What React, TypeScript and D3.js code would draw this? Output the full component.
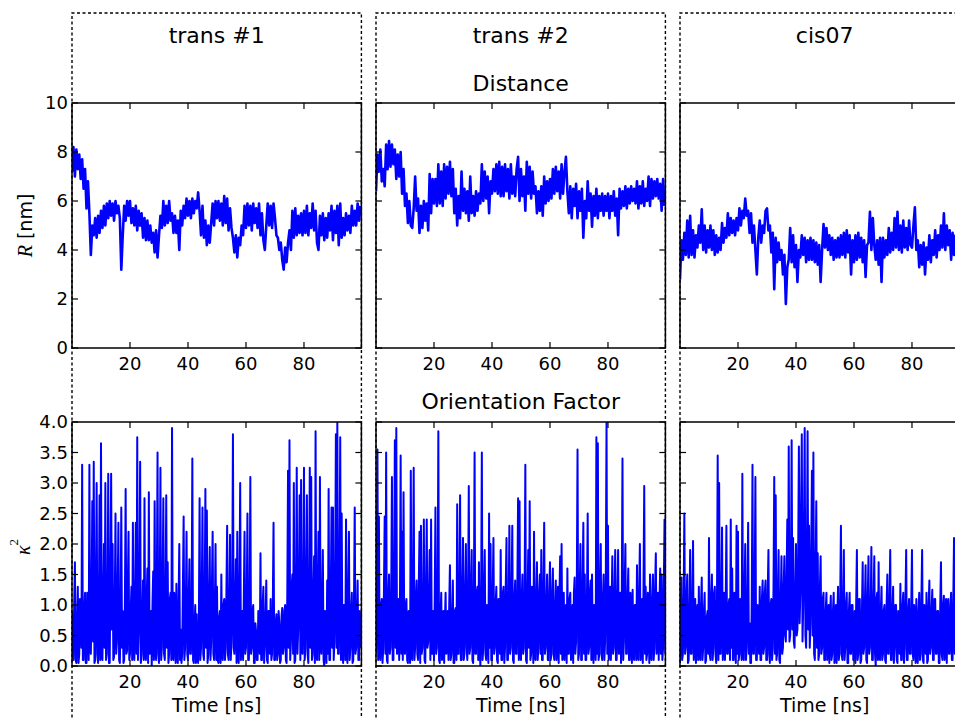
import * as d3 from 'd3';

// R sampled every 0.5 ns, kappa^2 every 0.25 ns (0 .. ~99.7 ns)
const DIST_STEP_NS = 0.5;
const KAPPA_STEP_NS = 0.25;

const columns = ['trans #1', 'trans #2', 'cis07'];

// donor-acceptor distance R [nm]
const distTrans1 = [
  7.2, 8.2, 7.0, 8.1, 7.3, 7.9, 6.9, 7.7, 6.5, 7.3, 5.7, 6.8, 5.5, 3.8, 5.0, 4.6, 5.3, 4.5, 5.4, 4.7,
  5.6, 4.9, 5.8, 5.0, 5.9, 5.3, 6.0, 5.4, 5.9, 5.2, 6.0, 5.5, 5.8, 5.3, 3.2, 4.6, 5.8, 5.2, 6.0, 5.4,
  6.0, 5.1, 5.7, 5.0, 5.8, 4.8, 5.6, 5.0, 5.5, 4.5, 5.3, 4.4, 5.2, 4.4, 5.0, 4.3, 4.7, 3.9, 4.8, 3.7,
  4.6, 5.4, 4.9, 6.0, 5.0, 5.8, 5.1, 6.0, 5.2, 5.5, 4.7, 5.4, 4.7, 5.2, 4.0, 5.6, 5.0, 5.8, 5.3, 6.1,
  5.4, 6.0, 5.3, 6.1, 5.5, 6.0, 5.7, 6.35, 5.6, 4.6, 5.8, 4.5, 5.2, 4.2, 5.0, 4.3, 5.1, 5.9, 5.0, 6.0,
  5.3, 6.0, 5.2, 5.9, 5.0, 6.2, 5.1, 6.1, 4.8, 5.7, 4.9, 4.5, 3.9, 4.6, 3.7, 4.5, 4.2, 5.0, 4.6, 5.8,
  4.9, 5.9, 5.0, 5.8, 4.8, 5.9, 5.1, 5.7, 4.9, 5.9, 4.6, 5.5, 4.4, 4.0, 5.0, 5.9, 5.0, 5.8, 4.9, 5.9,
  5.3, 4.6, 4.5, 4.0, 4.3, 3.6, 3.2, 4.1, 3.5, 4.3, 4.8, 4.0, 5.6, 4.5, 5.7, 4.6, 5.4, 4.7, 5.5, 4.6,
  5.6, 4.7, 5.8, 4.6, 5.5, 4.9, 5.9, 4.8, 5.6, 4.3, 4.0, 5.4, 4.6, 5.5, 4.4, 5.3, 4.5, 5.5, 4.8, 5.8,
  4.4, 5.6, 4.7, 5.8, 4.2, 5.9, 4.5, 5.3, 4.6, 5.5, 4.8, 5.4, 4.7, 5.8, 5.0, 5.6, 5.0, 5.9, 5.2, 5.8,
];
const distTrans2 = [
  6.4, 7.9, 7.2, 8.1, 6.8, 7.3, 6.6, 8.3, 7.3, 8.45, 7.4, 8.3, 7.5, 8.1, 6.9, 7.9, 7.0, 8.0, 6.3, 7.3,
  5.8, 6.3, 5.1, 6.0, 5.0, 4.9, 5.7, 7.0, 5.6, 6.1, 4.7, 5.8, 4.9, 6.0, 5.2, 5.9, 4.8, 7.1, 5.5, 6.9,
  5.9, 6.9, 5.8, 7.5, 5.9, 7.2, 5.8, 7.5, 6.1, 7.4, 6.3, 7.6, 6.2, 7.3, 5.5, 6.5, 5.0, 6.2, 5.3, 7.2,
  5.6, 6.5, 5.5, 6.4, 5.2, 7.0, 5.5, 6.2, 5.4, 6.4, 5.6, 6.3, 5.9, 7.5, 6.0, 7.2, 6.1, 7.0, 5.5, 6.8,
  6.3, 7.3, 6.4, 7.5, 6.3, 7.6, 6.2, 7.4, 6.2, 7.5, 6.4, 7.3, 6.1, 7.5, 6.3, 7.0, 6.2, 7.3, 7.8, 6.0,
  7.3, 6.2, 7.0, 5.6, 7.6, 6.3, 7.4, 6.1, 7.2, 6.3, 6.6, 5.5, 6.4, 5.6, 6.6, 5.4, 7.0, 5.9, 6.8, 6.0,
  6.9, 6.1, 7.3, 6.3, 7.4, 6.4, 7.2, 6.1, 7.5, 6.3, 7.2, 7.8, 6.4, 5.5, 6.6, 5.3, 6.5, 5.8, 6.7, 5.3,
  6.4, 5.6, 6.5, 4.5, 6.0, 5.3, 6.8, 5.6, 6.3, 4.95, 6.2, 5.4, 6.5, 5.3, 6.2, 5.6, 6.3, 5.4, 6.2, 5.6,
  6.3, 5.3, 6.2, 5.6, 6.4, 5.4, 6.1, 4.6, 6.5, 5.7, 6.4, 5.8, 6.6, 5.7, 6.5, 5.9, 6.6, 6.0, 6.5, 5.9,
  6.8, 5.7, 6.6, 5.9, 6.8, 5.8, 6.5, 6.0, 7.0, 5.8, 6.9, 6.1, 6.8, 6.2, 6.9, 6.1, 6.7, 5.6, 6.9, 5.8,
];
const distCis07 = [
  2.8, 4.4, 3.6, 4.7, 3.8, 5.2, 3.7, 5.4, 3.8, 4.8, 3.7, 4.6, 4.1, 5.0, 4.3, 5.66, 4.0, 5.0, 3.9, 4.8,
  4.1, 5.0, 4.0, 4.8, 3.8, 4.6, 3.9, 4.5, 4.0, 5.1, 4.3, 4.9, 4.5, 5.5, 4.6, 5.3, 4.7, 5.2, 4.6, 5.3,
  4.8, 5.7, 5.0, 5.6, 5.3, 6.1, 5.4, 5.6, 4.7, 5.5, 4.3, 5.0, 4.0, 3.0, 4.5, 5.2, 4.3, 5.0, 4.7, 5.6,
  5.7, 4.8, 5.0, 3.9, 4.7, 2.4, 4.5, 3.5, 4.3, 3.6, 4.0, 3.0, 3.8, 1.8, 3.3, 3.6, 4.9, 3.5, 4.6, 3.3,
  4.2, 2.7, 4.0, 3.7, 4.6, 3.8, 4.5, 3.5, 4.4, 3.6, 4.5, 3.6, 4.4, 3.5, 4.3, 3.4, 4.2, 2.7, 4.0, 5.06,
  4.1, 4.9, 4.0, 4.6, 3.8, 4.5, 3.6, 4.4, 3.7, 4.5, 3.7, 4.6, 3.8, 4.7, 3.7, 4.8, 3.9, 4.6, 3.0, 4.4,
  3.5, 4.6, 3.6, 4.7, 3.7, 4.5, 3.5, 4.4, 2.9, 4.2, 4.3, 5.56, 4.0, 5.3, 4.2, 3.6, 4.4, 3.4, 4.5, 2.7,
  4.5, 3.7, 4.4, 3.8, 4.9, 3.9, 4.7, 4.0, 5.3, 4.1, 5.56, 4.0, 5.0, 3.9, 5.2, 4.1, 4.9, 4.0, 5.2, 4.2,
  4.1, 5.0, 5.74, 4.0, 4.4, 3.3, 4.2, 3.4, 4.3, 3.0, 4.1, 3.6, 4.6, 3.5, 4.4, 3.8, 4.8, 3.7, 4.6, 4.0,
  5.0, 4.1, 5.5, 4.0, 5.0, 4.2, 4.8, 3.6, 4.7, 3.8, 4.6, 4.1, 5.0, 4.2, 4.9, 4.3, 5.1, 4.4, 5.0, 4.5,
];

// orientation factor kappa^2, one row = 10 ns
const kappaTrans1 = [
  0.9, 0.2, 0.1, 1.0, 1.7, 0.1, 0.05, 0.7, 1.3, 0.05, 0.2, 1.1, 0.9, 0.3, 3.3, 0.1, 0.1, 0.9, 1.2, 0.05,
  0.05, 1.2, 0.8, 0.1, 3.3, 0.3, 0.2, 1.0, 2.7, 0.4, 3.35, 0.05, 0.1, 1.3, 3.0, 0.2, 0.05, 0.8, 2.8, 0.1,
  3.65, 0.2, 0.1, 1.1, 2.0, 0.3, 3.0, 0.1, 0.2, 0.9, 3.15, 0.05, 0.05, 1.4, 3.15, 0.6, 2.0, 0.1, 0.15, 1.0,
  2.5, 0.2, 0.4, 1.2, 2.35, 0.1, 0.05, 0.8, 2.6, 0.3, 0.9, 0.05, 0.1, 1.1, 2.9, 0.2, 0.25, 1.3, 2.2, 0.1,
  0.2, 0.9, 1.3, 0.1, 2.35, 0.3, 0.1, 1.0, 2.35, 0.2, 3.75, 0.1, 0.5, 1.2, 3.35, 0.05, 0.2, 0.8, 1.4, 0.1,
  2.75, 0.3, 0.1, 1.1, 1.6, 0.05, 2.85, 0.2, 0.3, 0.9, 0.0, 1.0, 1.55, 0.1, 2.7, 0.4, 0.1, 1.2, 3.5, 0.2,
  0.05, 1.0, 3.25, 0.1, 0.3, 1.3, 2.75, 0.2, 0.1, 0.9, 2.8, 0.3, 1.7, 0.05, 0.2, 1.1, 1.2, 0.1, 3.9, 0.2,
  0.1, 1.2, 0.9, 0.05, 1.35, 0.3, 0.05, 1.0, 2.0, 0.1, 0.6, 0.05, 0.2, 1.3, 2.45, 0.1, 0.3, 0.9, 2.2, 0.2,
  0.1, 1.1, 1.75, 0.2, 0.2, 0.9, 3.4, 0.1, 0.05, 0.6, 1.0, 0.05, 0.85, 0.2, 0.05, 0.7, 2.75, 0.1, 0.3, 1.2,
  2.6, 0.2, 0.1, 1.0, 2.9, 0.3, 2.55, 0.05, 0.2, 1.1, 1.95, 0.1, 0.4, 1.3, 2.2, 0.2, 0.1, 0.9, 2.0, 0.1,
  1.3, 0.1, 0.05, 0.8, 0.9, 0.05, 1.5, 0.2, 0.1, 1.0, 1.1, 0.1, 0.3, 1.2, 2.3, 0.2, 0.1, 0.9, 2.15, 0.1,
  0.4, 1.1, 3.8, 0.3, 0.2, 1.0, 1.75, 0.05, 2.2, 0.2, 0.05, 1.2, 3.0, 0.1, 0.4, 0.9, 0.1, 1.1, 2.2, 0.2,
  0.3, 1.0, 2.5, 0.1, 0.1, 0.8, 3.1, 0.2, 0.3, 0.9, 1.0, 0.05, 0.05, 0.7, 0.55, 0.1, 0.1, 0.9, 0.8, 0.2,
  1.85, 0.1, 0.1, 1.0, 1.3, 0.05, 0.3, 0.8, 1.4, 0.1, 0.05, 0.9, 0.9, 0.2, 1.1, 0.1, 0.2, 1.0, 2.35, 0.1,
  0.1, 0.7, 0.85, 0.1, 0.2, 0.9, 0.7, 0.05, 0.1, 0.8, 0.95, 0.2, 0.3, 0.9, 1.0, 0.1, 0.05, 1.2, 3.2, 0.3,
  3.7, 0.1, 0.4, 1.3, 1.5, 0.2, 3.0, 0.05, 0.1, 1.1, 3.25, 0.2, 0.6, 1.4, 2.8, 0.1, 3.05, 0.3, 0.2, 1.2,
  3.25, 0.1, 0.3, 1.4, 2.8, 0.2, 0.05, 1.1, 3.25, 0.3, 3.1, 0.1, 0.2, 1.2, 1.8, 0.05, 3.85, 0.2, 0.1, 1.3,
  2.2, 0.1, 3.1, 0.4, 0.2, 1.0, 1.9, 0.1, 0.0, 0.9, 0.7, 0.05, 1.4, 0.2, 2.9, 0.1, 0.1, 1.2, 2.6, 0.3,
  2.6, 0.1, 0.4, 1.3, 3.8, 0.3, 4.0, 0.2, 0.2, 1.4, 3.75, 0.1, 2.5, 0.3, 0.05, 1.0, 1.0, 0.1, 2.4, 0.2,
  0.05, 1.2, 2.2, 0.1, 0.3, 0.9, 1.2, 0.05, 0.1, 1.1, 2.6, 0.2, 0.3, 0.8, 1.4, 0.1, 0.1, 0.9, 0.6, 0.3,
];
const kappaTrans2 = [
  0.2, 1.2, 3.55, 0.1, 2.45, 0.3, 0.1, 1.0, 1.1, 0.05, 0.3, 1.3, 2.45, 0.2, 3.5, 0.1, 0.05, 1.1, 1.5, 0.2,
  0.3, 1.2, 3.1, 0.1, 0.1, 1.4, 3.7, 0.3, 3.9, 0.2, 0.3, 1.1, 0.1, 0.9, 3.45, 0.2, 2.2, 0.1, 2.85, 0.3,
  0.2, 1.0, 1.1, 0.1, 0.05, 0.9, 0.8, 0.05, 3.2, 0.2, 0.1, 1.2, 3.25, 0.1, 0.3, 1.1, 1.4, 0.2, 0.1, 1.3,
  2.2, 0.05, 2.3, 0.2, 0.3, 1.0, 2.4, 0.1, 0.05, 1.2, 2.4, 0.3, 0.4, 1.1, 1.9, 0.1, 2.4, 0.2, 0.2, 0.9,
  0.1, 1.1, 2.6, 0.2, 0.3, 0.9, 3.85, 0.1, 0.05, 0.8, 1.2, 0.1, 0.2, 0.9, 0.05, 0.7, 1.2, 0.2, 0.4, 0.9,
  0.1, 1.0, 1.65, 0.1, 0.2, 0.8, 1.4, 0.05, 0.05, 0.9, 0.95, 0.1, 2.65, 0.2, 0.2, 1.1, 2.8, 0.1, 0.1, 1.2,
  2.1, 0.1, 0.2, 1.2, 2.0, 0.3, 0.1, 1.1, 2.95, 0.2, 0.3, 1.3, 1.9, 0.1, 0.05, 1.0, 3.5, 0.2, 0.2, 1.2,
  1.3, 0.1, 1.7, 0.3, 0.0, 1.1, 3.5, 0.1, 0.3, 1.2, 1.9, 0.2, 0.1, 1.0, 0.9, 0.05, 2.5, 0.3, 2.0, 0.1,
  0.1, 1.2, 2.1, 0.2, 0.3, 1.0, 1.3, 0.1, 0.05, 1.1, 0.9, 0.2, 1.9, 0.1, 0.1, 1.2, 1.3, 0.05, 0.3, 1.3,
  2.1, 0.1, 0.1, 1.0, 2.3, 0.2, 0.3, 1.2, 2.3, 0.1, 0.05, 1.1, 1.4, 0.2, 0.2, 1.3, 2.75, 0.1, 2.7, 0.2,
  0.1, 1.1, 1.5, 0.2, 0.3, 1.2, 3.3, 0.1, 0.05, 1.0, 1.9, 0.3, 2.7, 0.1, 0.2, 1.3, 0.9, 0.05, 2.2, 0.2,
  0.1, 1.1, 1.7, 0.1, 0.3, 1.2, 1.5, 0.2, 1.9, 0.1, 0.1, 1.3, 2.35, 0.2, 0.3, 1.0, 1.5, 0.1, 0.1, 1.2,
  1.7, 0.1, 0.2, 1.2, 1.6, 0.2, 0.1, 1.0, 1.4, 0.1, 0.4, 1.3, 0.05, 1.1, 1.8, 0.2, 2.0, 0.1, 0.2, 1.2,
  0.1, 0.9, 1.0, 0.05, 1.6, 0.2, 0.2, 1.1, 1.2, 0.1, 0.3, 1.0, 0.05, 1.2, 1.45, 0.2, 0.4, 1.3, 3.55, 0.1,
  0.2, 1.2, 2.0, 0.1, 0.1, 1.3, 2.35, 0.2, 1.5, 0.1, 0.1, 1.1, 2.5, 0.2, 0.3, 1.2, 1.4, 0.1, 1.5, 0.3,
  0.05, 1.0, 0.8, 0.1, 3.75, 0.2, 3.65, 0.1, 0.2, 1.3, 2.0, 0.2, 0.1, 1.1, 1.5, 0.1, 0.4, 1.4, 4.0, 0.2,
  2.3, 0.1, 0.2, 1.3, 0.1, 1.0, 1.8, 0.2, 0.3, 1.2, 1.9, 0.1, 0.1, 1.1, 1.9, 0.2, 0.3, 1.2, 0.05, 1.0,
  3.4, 0.1, 0.4, 1.3, 2.0, 0.2, 0.2, 1.1, 1.6, 0.1, 0.1, 1.2, 0.8, 0.05, 1.25, 0.2, 0.1, 1.0, 1.0, 0.1,
  1.65, 0.2, 0.1, 1.2, 2.0, 0.1, 0.3, 1.1, 0.05, 1.3, 2.95, 0.2, 1.3, 0.1, 0.2, 1.2, 0.9, 0.05, 1.5, 0.2,
  0.1, 1.1, 1.5, 0.1, 0.3, 1.3, 1.85, 0.2, 0.4, 1.2, 0.1, 1.0, 1.6, 0.2, 1.5, 0.1, 0.3, 1.3, 2.4, 0.2,
];
const kappaCis07 = [
  0.05, 0.9, 1.45, 0.1, 0.2, 1.0, 2.5, 0.2, 0.3, 1.1, 1.5, 0.05, 0.1, 0.9, 1.9, 0.2, 0.2, 1.0, 2.05, 0.1,
  0.4, 1.1, 0.05, 0.8, 1.0, 0.1, 1.3, 0.2, 0.1, 1.0, 1.45, 0.1, 0.3, 0.9, 1.2, 0.05, 0.1, 0.8, 0.9, 0.2,
  2.1, 0.2, 0.1, 1.1, 1.5, 0.1, 0.3, 1.2, 1.3, 0.2, 0.05, 1.0, 3.45, 0.1, 3.0, 0.2, 0.2, 1.1, 2.27, 0.1,
  0.4, 1.2, 0.1, 0.9, 2.3, 0.2, 0.2, 1.0, 1.1, 0.1, 2.4, 0.3, 1.6, 0.1, 0.1, 1.2, 0.9, 0.05, 2.3, 0.2,
  2.2, 0.1, 0.2, 1.1, 0.9, 0.1, 3.15, 0.2, 0.1, 1.2, 2.0, 0.1, 0.3, 1.0, 2.35, 0.2, 0.7, 0.05, 0.05, 1.1,
  3.3, 0.2, 0.2, 1.2, 3.1, 0.1, 0.1, 1.0, 0.9, 0.2, 1.3, 0.1, 0.1, 1.1, 1.4, 0.2, 0.3, 1.2, 1.4, 0.1,
  0.1, 1.2, 1.9, 0.2, 0.05, 1.0, 1.1, 0.1, 0.3, 1.3, 3.1, 0.2, 2.8, 0.1, 0.2, 1.2, 1.9, 0.1, 0.05, 1.1,
  1.8, 0.2, 0.3, 1.3, 1.8, 0.5, 0.4, 1.4, 2.4, 0.6, 3.6, 0.4, 0.5, 1.5, 3.7, 0.6, 2.1, 0.4, 0.3, 1.2,
  2.0, 0.5, 0.6, 1.8, 3.6, 0.7, 1.2, 2.5, 3.8, 0.4, 1.0, 2.2, 3.9, 0.5, 0.3, 1.6, 3.85, 0.6, 2.3, 0.3,
  0.7, 1.9, 3.2, 0.5, 3.5, 0.2, 0.1, 1.5, 2.7, 0.3, 1.85, 0.1, 0.2, 1.3, 1.8, 0.2, 0.3, 1.1, 1.2, 0.1,
  0.1, 0.9, 1.2, 0.1, 0.2, 1.0, 0.05, 0.8, 1.15, 0.1, 0.2, 0.9, 1.2, 0.05, 0.3, 1.0, 0.05, 0.8, 1.3, 0.1,
  0.2, 1.1, 2.3, 0.2, 0.1, 0.9, 1.9, 0.1, 0.3, 1.0, 1.2, 0.05, 0.05, 0.9, 1.2, 0.2, 0.2, 1.0, 1.0, 0.1,
  0.2, 0.9, 0.05, 1.0, 1.9, 0.1, 0.2, 1.1, 1.1, 0.05, 0.1, 0.9, 1.7, 0.2, 0.3, 1.0, 1.65, 0.1, 0.05, 1.1,
  1.8, 0.2, 0.3, 0.9, 1.95, 0.1, 0.1, 1.0, 1.8, 0.2, 0.0, 1.1, 1.2, 0.1, 1.7, 0.2, 0.1, 0.9, 1.3, 0.1,
  0.2, 0.9, 1.0, 0.1, 0.05, 1.0, 1.5, 0.2, 0.2, 1.1, 1.9, 0.1, 0.1, 0.9, 1.3, 0.05, 0.3, 1.0, 1.0, 0.1,
  0.05, 0.9, 0.8, 0.2, 1.35, 0.1, 0.1, 1.0, 1.2, 0.05, 0.3, 1.1, 1.9, 0.1, 0.1, 0.9, 1.1, 0.2, 0.2, 1.0,
  1.9, 0.2, 0.1, 1.0, 0.7, 0.05, 1.1, 0.2, 0.05, 0.9, 1.2, 0.1, 0.2, 1.1, 1.9, 0.1, 0.05, 1.0, 0.8, 0.2,
  1.2, 0.05, 0.1, 1.0, 1.4, 0.2, 0.3, 0.9, 1.25, 0.1, 0.1, 1.1, 1.1, 0.2, 0.2, 0.9, 0.9, 0.05, 0.05, 1.0,
  1.7, 0.2, 0.1, 1.0, 1.15, 0.1, 0.3, 1.1, 0.05, 0.9, 1.1, 0.2, 0.2, 1.0, 1.2, 0.1, 0.1, 1.1, 2.1, 0.2,
  0.3, 1.0, 1.3, 0.1, 0.1, 0.9, 0.9, 0.05, 0.05, 1.0, 1.1, 0.2, 0.3, 1.1, 1.4, 0.1, 0.1, 0.9, 0.8, 0.2,
];

const distSeries = [distTrans1, distTrans2, distCis07];
const kappaSeries = [kappaTrans1, kappaTrans2, kappaCis07];

const timeTicks = [20, 40, 60, 80];
const distTicks = [0, 2, 4, 6, 8, 10];
const kappaTicks = [0, 0.5, 1, 1.5, 2, 2.5, 3, 3.5, 4];

const W = 955, H = 718;
const COL_X = [72, 376, 680];
const PANEL_W = 289.4;
const T_MAX = 99.8;
const TOP_ROW = { top: 103, bottom: 348 };
const BOT_ROW = { top: 422, bottom: 666 };
const TICK = 6;
const SANS = 'DejaVu Sans, sans-serif';
const MATH = 'Liberation Serif, DejaVu Serif, serif';

interface PanelProps {
  id: string;
  x0: number;
  top: number;
  bottom: number;
  values: number[];
  step: number;
  lineWidth: number;
  yMax: number;
  yTicks: number[];
  yFormat: (v: number) => string;
  showYLabels: boolean;
  xLabel: boolean;
}

function Panel({ id, x0, top, bottom, values, step, lineWidth, yMax, yTicks, yFormat, showYLabels, xLabel }: PanelProps) {
  const x = d3.scaleLinear().domain([0, T_MAX]).range([x0, x0 + PANEL_W]);
  const y = d3.scaleLinear().domain([0, yMax]).range([bottom, top]);
  const line = d3.line<number>().x((_, i) => x(i * step)).y((d) => y(d));
  const x1 = x0 + PANEL_W;

  return (
    <g>
      <clipPath id={id}>
        <rect x={x0} y={top} width={PANEL_W} height={bottom - top} />
      </clipPath>
      <path d={line(values) ?? ''} fill="none" stroke="#0000ff" strokeWidth={lineWidth}
        strokeLinejoin="round" clipPath={`url(#${id})`} />

      {timeTicks.map((t) => (
        <g key={t}>
          <line x1={x(t)} x2={x(t)} y1={bottom} y2={bottom - TICK} stroke="#000" strokeWidth={1.2} />
          <line x1={x(t)} x2={x(t)} y1={top} y2={top + TICK} stroke="#000" strokeWidth={1.2} />
          <text x={x(t)} y={bottom + 22} textAnchor="middle" fontSize={18} fontFamily={SANS}>{t}</text>
        </g>
      ))}
      {yTicks.map((v) => (
        <g key={v}>
          <line x1={x0} x2={x0 + TICK} y1={y(v)} y2={y(v)} stroke="#000" strokeWidth={1.2} />
          <line x1={x1} x2={x1 - TICK} y1={y(v)} y2={y(v)} stroke="#000" strokeWidth={1.2} />
          {showYLabels && (
            <text x={x0 - 4} y={y(v)} dy="0.36em" textAnchor="end" fontSize={18} fontFamily={SANS}>
              {yFormat(v)}
            </text>
          )}
        </g>
      ))}
      <rect x={x0} y={top} width={PANEL_W} height={bottom - top} fill="none" stroke="#000" strokeWidth={1.5} />
      {xLabel && (
        <text x={x0 + PANEL_W / 2} y={712} textAnchor="middle" fontSize={19} fontFamily={SANS}>Time [ns]</text>
      )}
    </g>
  );
}

export default function App() {
  return (
    <div style={{ position: 'absolute', left: 0, top: 0, width: W, height: H, overflow: 'hidden', background: '#fff' }}>
      <svg width={W} height={H} viewBox={`0 0 ${W} ${H}`} style={{ display: 'block' }}>
        <rect width={W} height={H} fill="#fff" />

        {/* dashed box per column */}
        {COL_X.map((cx) => (
          <path key={cx} d={`M${cx},${H + 5} V13 H${cx + PANEL_W} V${H + 5}`} fill="none"
            stroke="#000" strokeWidth={1.4} strokeDasharray="3,2.5" />
        ))}

        {columns.map((name, c) => (
          <text key={name} x={COL_X[c] + PANEL_W / 2} y={43} textAnchor="middle" fontSize={22} fontFamily={SANS}>
            {name}
          </text>
        ))}
        <text x={COL_X[1] + PANEL_W / 2} y={91} textAnchor="middle" fontSize={22} fontFamily={SANS}>Distance</text>
        <text x={COL_X[1] + PANEL_W / 2} y={409} textAnchor="middle" fontSize={22} fontFamily={SANS}>Orientation Factor</text>

        {distSeries.map((vals, c) => (
          <Panel key={`d${c}`} id={`clip-d${c}`} x0={COL_X[c]} top={TOP_ROW.top} bottom={TOP_ROW.bottom}
            values={vals} step={DIST_STEP_NS} lineWidth={2.6} yMax={10} yTicks={distTicks}
            yFormat={(v) => d3.format('d')(v)} showYLabels={c === 0} xLabel={false} />
        ))}
        {kappaSeries.map((vals, c) => (
          <Panel key={`k${c}`} id={`clip-k${c}`} x0={COL_X[c]} top={BOT_ROW.top} bottom={BOT_ROW.bottom}
            values={vals} step={KAPPA_STEP_NS} lineWidth={2} yMax={4} yTicks={kappaTicks}
            yFormat={(v) => d3.format('.1f')(v)} showYLabels={c === 0} xLabel={true} />
        ))}

        {/* y axis labels */}
        <text transform={`translate(32,${(TOP_ROW.top + TOP_ROW.bottom) / 2}) rotate(-90)`} textAnchor="middle"
          fontSize={19} fontFamily={SANS}>
          <tspan fontFamily={MATH} fontStyle="italic" fontSize={20}>R</tspan>
          <tspan> [nm]</tspan>
        </text>
        <text transform={`translate(30,${(BOT_ROW.top + BOT_ROW.bottom) / 2 + 3}) rotate(-90)`} textAnchor="middle"
          fontFamily={MATH}>
          <tspan fontStyle="italic" fontSize={20}>κ</tspan>
          <tspan fontSize={13} dy={-12}>2</tspan>
        </text>
      </svg>
    </div>
  );
}
